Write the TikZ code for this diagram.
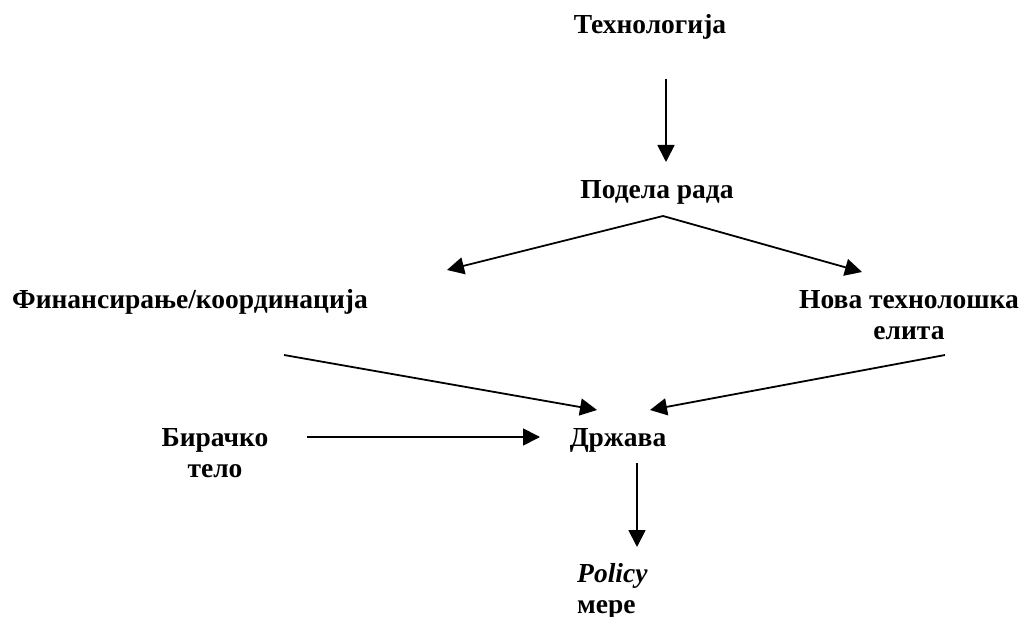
\documentclass[tikz,border=0pt]{standalone}
\usepackage{fontspec}
\setmainfont{Liberation Serif}
\usetikzlibrary{arrows.meta,calc}
\begin{document}
\begin{tikzpicture}[x=1pt,y=-1pt,
  lbl/.style={font=\fontsize{27.5}{31}\selectfont\bfseries, inner sep=0pt, align=center},
  arr/.style={line width=1.8pt, -{Triangle[length=17pt,width=17pt]}}]
\useasboundingbox (0,0) rectangle (1028,617);
\node[lbl] (tech) at (650,27) {Технологија};
\node[lbl] (podela) at (657,192) {Подела рада};
\node[lbl] (fin) at (190,302) {Финансирање/координација};
\node[lbl] (nova) at (909,315) {Нова технолошка\\елита};
\node[lbl] (birac) at (215,453) {Бирачко\\тело};
\node[lbl] (drz) at (618,440) {Држава};
\node[lbl, align=left, anchor=west] (policy) at (577,591) {\textit{Policy}\\мере};
\draw[arr] ($(tech)+(16,52)$) -- ($(podela)+(9,-30)$);
\draw[arr] ($(podela)+(6,24)$) -- ($(fin)+(257,-32)$);
\draw[arr] ($(podela)+(6,24)$) -- ($(nova)+(-47,-43)$);
\draw[arr] ($(fin)+(94,53)$) -- ($(drz)+(-21,-30)$);
\draw[arr] ($(nova)+(36,40)$) -- ($(drz)+(32,-30)$);
\draw[arr] ($(birac)+(92,-16)$) -- ($(drz)+(-78,-3)$);
\draw[arr] ($(drz)+(19,23)$) -- ($(policy.west)+(60,-44)$);
\end{tikzpicture}
\end{document}
